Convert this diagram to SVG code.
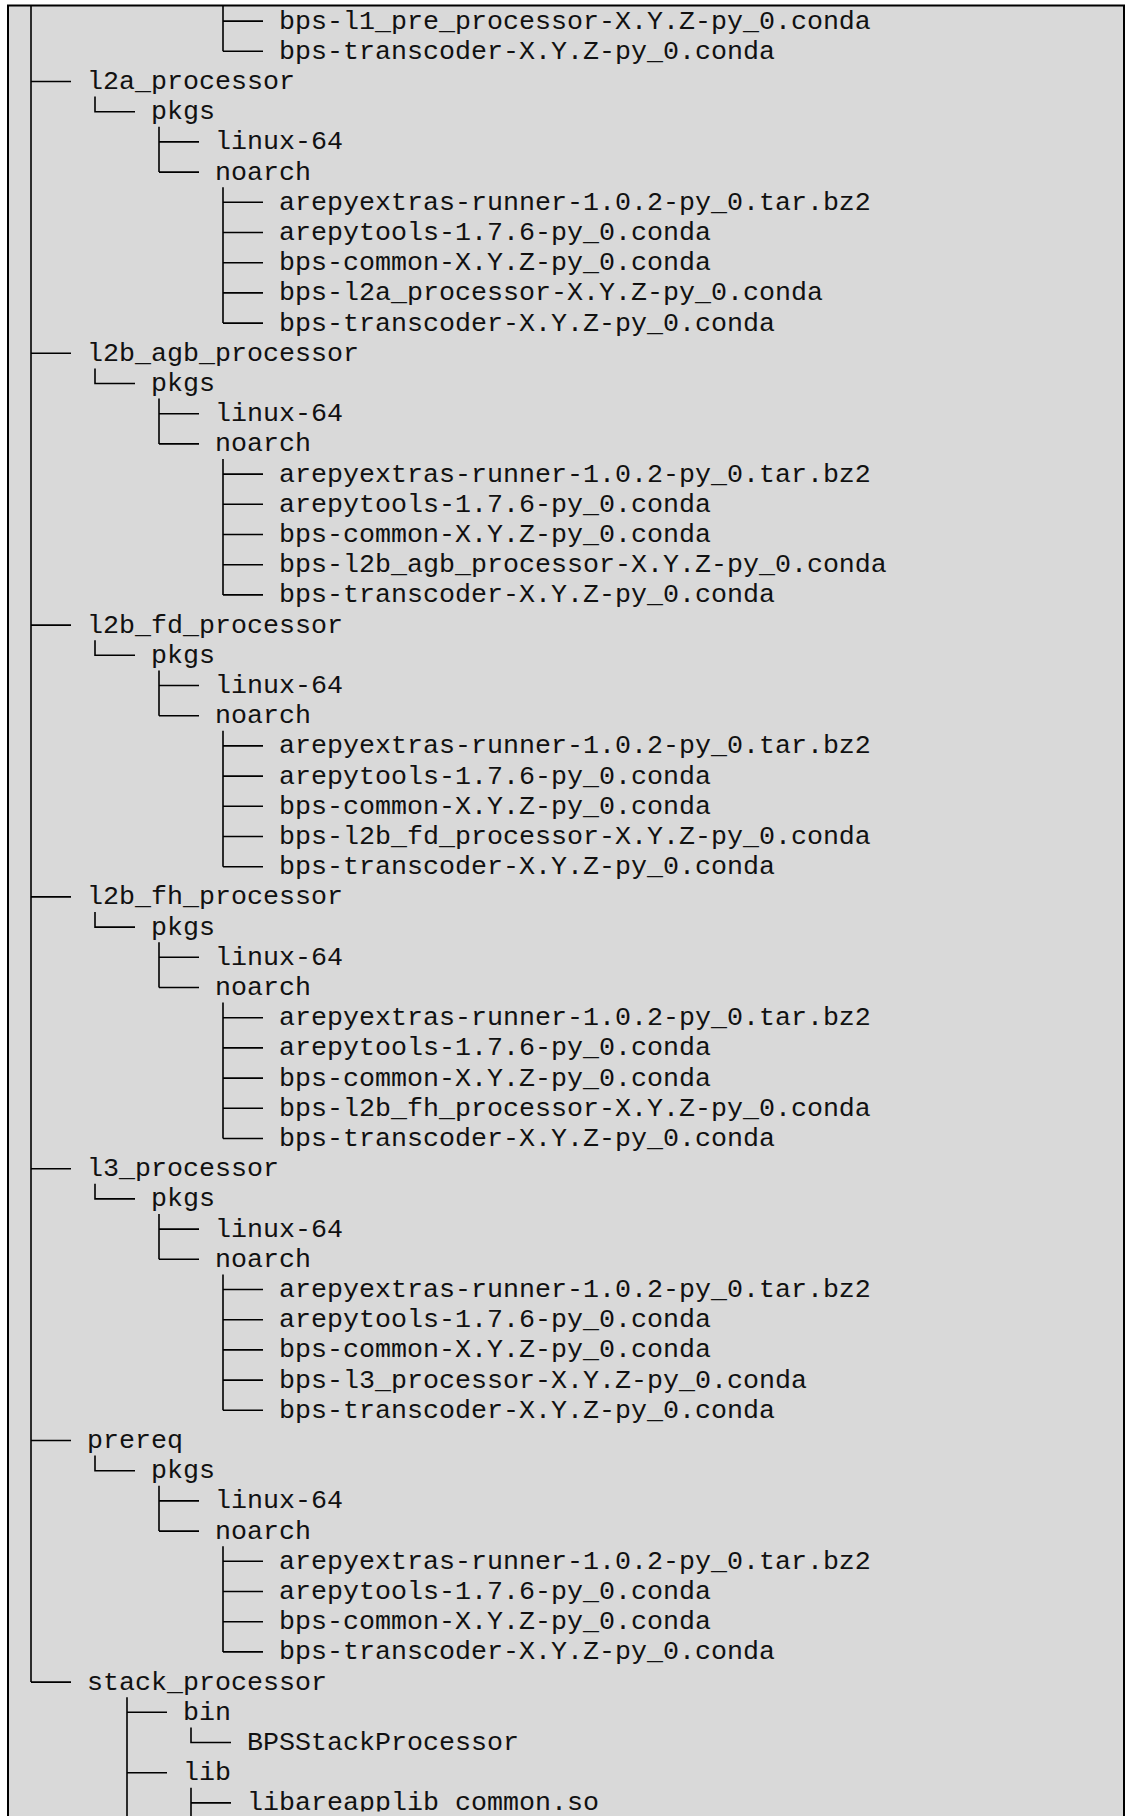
<svg xmlns="http://www.w3.org/2000/svg" width="1125" height="1816" viewBox="0 0 1125 1816">
<style>
.t{font-family:"Liberation Mono","Courier New",monospace;font-size:26.67px;fill:#111;white-space:pre}
.c{fill:none;stroke:#000;stroke-width:1.6}
</style>
<defs>
<clipPath id="frame"><rect x="0" y="0" width="1125" height="1811.6"/></clipPath>
</defs>
<rect x="8" y="5.5" width="1116" height="1840" fill="#d9d9d9" stroke="#000" stroke-width="2"/>
<g id="connectors" class="c">
<path d="M31 6V1682.1"/>
<path d="M223 6V51.3M223 21.1h40M223 51.3h40"/>
<path d="M31 81.5h40M95 96.6V111.7h40M159 126.8V172.1M159 141.9h40M159 172.1h40M223 187.2V323.1M223 202.3h40M223 232.5h40M223 262.7h40M223 292.9h40M223 323.1h40"/>
<path d="M31 353.3h40M95 368.4V383.5h40M159 398.6V443.9M159 413.7h40M159 443.9h40M223 459V594.9M223 474.1h40M223 504.3h40M223 534.5h40M223 564.7h40M223 594.9h40"/>
<path d="M31 625.1h40M95 640.2V655.3h40M159 670.4V715.7M159 685.5h40M159 715.7h40M223 730.8V866.7M223 745.9h40M223 776.1h40M223 806.3h40M223 836.5h40M223 866.7h40"/>
<path d="M31 896.9h40M95 912V927.1h40M159 942.2V987.5M159 957.3h40M159 987.5h40M223 1002.6V1138.5M223 1017.7h40M223 1047.9h40M223 1078.1h40M223 1108.3h40M223 1138.5h40"/>
<path d="M31 1168.7h40M95 1183.8V1198.9h40M159 1214V1259.3M159 1229.1h40M159 1259.3h40M223 1274.4V1410.3M223 1289.5h40M223 1319.7h40M223 1349.9h40M223 1380.1h40M223 1410.3h40"/>
<path d="M31 1440.5h40M95 1455.6V1470.7h40M159 1485.8V1531.1M159 1500.9h40M159 1531.1h40M223 1546.2V1651.9M223 1561.3h40M223 1591.5h40M223 1621.7h40M223 1651.9h40"/>
<path d="M31 1682.1h40M127 1697.2V1820M127 1712.3h40M127 1772.7h40M191 1727.4V1742.5h40M191 1787.8V1820M191 1802.9h40"/>
</g>
<g id="top-files">
<text class="t" x="279" y="28.5">bps-l1_pre_processor-X.Y.Z-py_0.conda</text>
<text class="t" x="279" y="58.7">bps-transcoder-X.Y.Z-py_0.conda</text>
</g>
<g id="l2a_processor">
<text class="t" x="87" y="88.9">l2a_processor</text>
<text class="t" x="151" y="119.1">pkgs</text>
<text class="t" x="215" y="149.3">linux-64</text>
<text class="t" x="215" y="179.5">noarch</text>
<text class="t" x="279" y="209.7">arepyextras-runner-1.0.2-py_0.tar.bz2</text>
<text class="t" x="279" y="239.9">arepytools-1.7.6-py_0.conda</text>
<text class="t" x="279" y="270.1">bps-common-X.Y.Z-py_0.conda</text>
<text class="t" x="279" y="300.3">bps-l2a_processor-X.Y.Z-py_0.conda</text>
<text class="t" x="279" y="330.5">bps-transcoder-X.Y.Z-py_0.conda</text>
</g>
<g id="l2b_agb_processor">
<text class="t" x="87" y="360.7">l2b_agb_processor</text>
<text class="t" x="151" y="390.9">pkgs</text>
<text class="t" x="215" y="421.1">linux-64</text>
<text class="t" x="215" y="451.3">noarch</text>
<text class="t" x="279" y="481.5">arepyextras-runner-1.0.2-py_0.tar.bz2</text>
<text class="t" x="279" y="511.7">arepytools-1.7.6-py_0.conda</text>
<text class="t" x="279" y="541.9">bps-common-X.Y.Z-py_0.conda</text>
<text class="t" x="279" y="572.1">bps-l2b_agb_processor-X.Y.Z-py_0.conda</text>
<text class="t" x="279" y="602.3">bps-transcoder-X.Y.Z-py_0.conda</text>
</g>
<g id="l2b_fd_processor">
<text class="t" x="87" y="632.5">l2b_fd_processor</text>
<text class="t" x="151" y="662.7">pkgs</text>
<text class="t" x="215" y="692.9">linux-64</text>
<text class="t" x="215" y="723.1">noarch</text>
<text class="t" x="279" y="753.3">arepyextras-runner-1.0.2-py_0.tar.bz2</text>
<text class="t" x="279" y="783.5">arepytools-1.7.6-py_0.conda</text>
<text class="t" x="279" y="813.7">bps-common-X.Y.Z-py_0.conda</text>
<text class="t" x="279" y="843.9">bps-l2b_fd_processor-X.Y.Z-py_0.conda</text>
<text class="t" x="279" y="874.1">bps-transcoder-X.Y.Z-py_0.conda</text>
</g>
<g id="l2b_fh_processor">
<text class="t" x="87" y="904.3">l2b_fh_processor</text>
<text class="t" x="151" y="934.5">pkgs</text>
<text class="t" x="215" y="964.7">linux-64</text>
<text class="t" x="215" y="994.9">noarch</text>
<text class="t" x="279" y="1025.1">arepyextras-runner-1.0.2-py_0.tar.bz2</text>
<text class="t" x="279" y="1055.3">arepytools-1.7.6-py_0.conda</text>
<text class="t" x="279" y="1085.5">bps-common-X.Y.Z-py_0.conda</text>
<text class="t" x="279" y="1115.7">bps-l2b_fh_processor-X.Y.Z-py_0.conda</text>
<text class="t" x="279" y="1145.9">bps-transcoder-X.Y.Z-py_0.conda</text>
</g>
<g id="l3_processor">
<text class="t" x="87" y="1176.1">l3_processor</text>
<text class="t" x="151" y="1206.3">pkgs</text>
<text class="t" x="215" y="1236.5">linux-64</text>
<text class="t" x="215" y="1266.7">noarch</text>
<text class="t" x="279" y="1296.9">arepyextras-runner-1.0.2-py_0.tar.bz2</text>
<text class="t" x="279" y="1327.1">arepytools-1.7.6-py_0.conda</text>
<text class="t" x="279" y="1357.3">bps-common-X.Y.Z-py_0.conda</text>
<text class="t" x="279" y="1387.5">bps-l3_processor-X.Y.Z-py_0.conda</text>
<text class="t" x="279" y="1417.7">bps-transcoder-X.Y.Z-py_0.conda</text>
</g>
<g id="prereq">
<text class="t" x="87" y="1447.9">prereq</text>
<text class="t" x="151" y="1478.1">pkgs</text>
<text class="t" x="215" y="1508.3">linux-64</text>
<text class="t" x="215" y="1538.5">noarch</text>
<text class="t" x="279" y="1568.7">arepyextras-runner-1.0.2-py_0.tar.bz2</text>
<text class="t" x="279" y="1598.9">arepytools-1.7.6-py_0.conda</text>
<text class="t" x="279" y="1629.1">bps-common-X.Y.Z-py_0.conda</text>
<text class="t" x="279" y="1659.3">bps-transcoder-X.Y.Z-py_0.conda</text>
</g>
<g id="stack_processor">
<text class="t" x="87" y="1689.5">stack_processor</text>
<text class="t" x="183" y="1719.7">bin</text>
<text class="t" x="247" y="1749.9">BPSStackProcessor</text>
<text class="t" x="183" y="1780.1">lib</text>
<text class="t" x="247" y="1810.3" clip-path="url(#frame)">libareapplib_common.so</text>
</g>
</svg>
